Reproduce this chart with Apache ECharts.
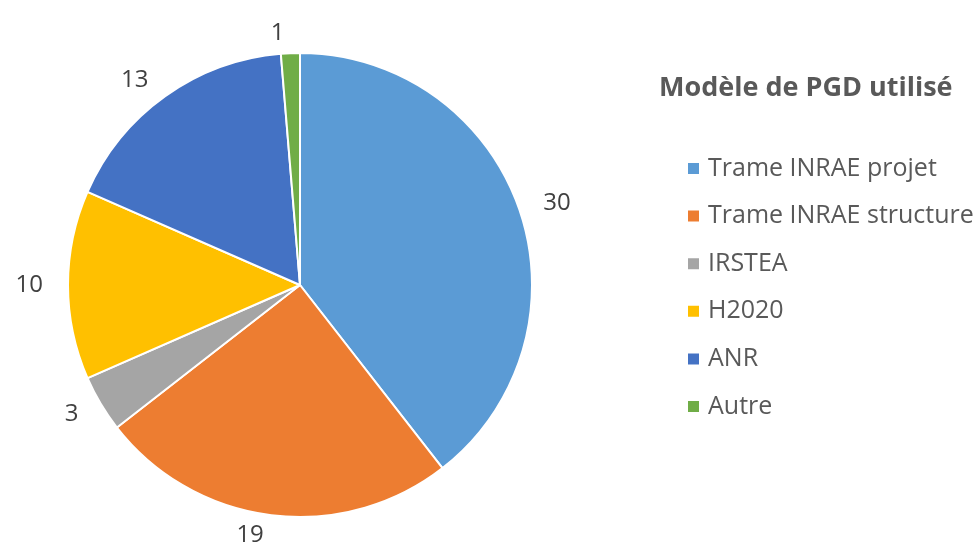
<!DOCTYPE html>
<html>
<head>
<meta charset="utf-8">
<script src="https://cdn.jsdelivr.net/npm/echarts@6/dist/echarts.min.js"></script>
<style>
  html, body { margin: 0; padding: 0; background: #fff; }
  #chart { width: 978px; height: 556px; }
</style>
</head>
<body>
<div id="chart"></div>
<script>
// données
const categories = ["Trame INRAE projet", "Trame INRAE structure", "IRSTEA", "H2020", "ANR", "Autre"];
const counts = [30, 19, 3, 10, 13, 1];
const colors = ["#5B9BD5", "#ED7D31", "#A5A5A5", "#FFC000", "#4472C4", "#70AD47"];

const chart = echarts.init(document.getElementById("chart"));
const font = "'Open Sans', 'Noto Sans', sans-serif";

const option = {
  animation: false,
  color: colors,
  title: {
    text: "Modèle de PGD utilisé",
    left: 654,
    top: 70,
    textStyle: { fontFamily: font, fontSize: 27, fontWeight: "bold", color: "#595959" }
  },
  legend: {
    orient: "vertical",
    left: 681,
    top: 151,
    icon: "rect",
    itemWidth: 13,
    itemHeight: 13,
    itemGap: 22.6,
    textStyle: { fontFamily: font, fontSize: 25, color: "#595959", padding: [0, 0, 0, 3] },
    data: categories
  },
  series: [
    {
      type: "pie",
      center: [300, 285],
      radius: 232,
      startAngle: 90,
      clockwise: true,
      avoidLabelOverlap: false,
      itemStyle: { borderColor: "#fff", borderWidth: 2 },
      label: {
        show: true,
        position: "outside",
        formatter: "{c}",
        fontFamily: font,
        fontSize: 24,
        color: "#404040"
      },
      labelLine: { show: false, length: 20, length2: 0 },
      emphasis: { disabled: true },
      data: categories.map((name, i) => ({ name, value: counts[i] }))
    }
  ]
};
chart.setOption(option);
</script>
</body>
</html>
